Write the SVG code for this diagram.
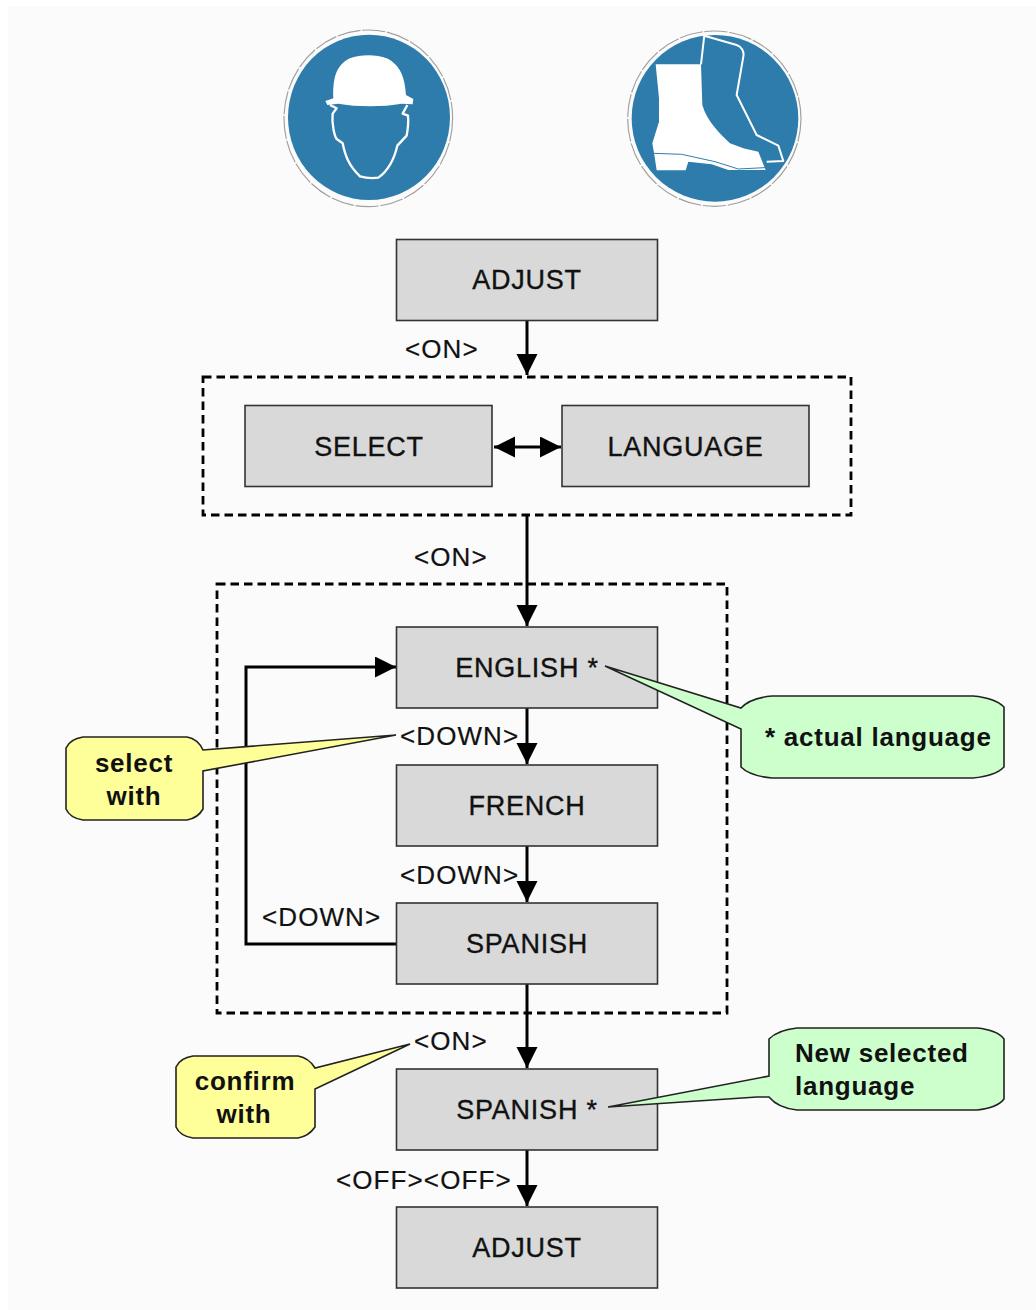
<svg xmlns="http://www.w3.org/2000/svg" width="1036" height="1310" viewBox="0 0 1036 1310">
<style>
.box{fill:#d9d9d9;stroke:#333;stroke-width:1.6}
.dash{fill:none;stroke:#000;stroke-width:2.8;stroke-dasharray:8.500 5}
.line{fill:none;stroke:#000;stroke-width:3}
.t{font-family:"Liberation Sans",Arial,sans-serif;font-size:27px;fill:#111;stroke:#111;stroke-width:.35;text-anchor:middle;letter-spacing:.75px}
.l{font-family:"Liberation Sans",Arial,sans-serif;font-size:26px;fill:#111;stroke:#111;stroke-width:.2;letter-spacing:1.100px}
.b{font-family:"Liberation Sans",Arial,sans-serif;font-size:26px;font-weight:bold;fill:#111;letter-spacing:.75px}
.m{text-anchor:middle}
.y{fill:#ffff99;stroke:#222;stroke-width:1.6}
.g{fill:#ccffcc;stroke:#222;stroke-width:1.6}
.ring{fill:none;stroke:#a0a0a0;stroke-width:3.500;stroke-dasharray:70 5}
</style>
<defs>
<marker id="a" markerUnits="userSpaceOnUse" markerWidth="22" markerHeight="22" refX="21" refY="10.500" orient="auto-start-reverse"><path d="M0 0L21 10.500L0 21Z" fill="#000"/></marker>
<filter id="soft" x="-5%" y="-5%" width="110%" height="110%"><feGaussianBlur stdDeviation="1.500"/></filter>
</defs>
<rect x="0" y="0" width="1036" height="1310" fill="#fff"/>
<rect x="8" y="6" width="1028" height="1304" fill="#fbfbfb"/>

<g id="icon-helmet" transform="translate(270 15) scale(.3333)" filter="url(#soft)">
<ellipse cx="297" cy="307" rx="243" ry="248" fill="#2f7cac"/>
<ellipse cx="295" cy="310" rx="253" ry="265" class="ring"/>
<path d="M190 250C188 190 198 150 240 130C270 118 320 118 350 130C392 150 405 190 408 240L430 252L428 268L395 266C340 276 260 276 205 266L172 270L166 258Z" fill="#fff"/>
<path d="M180 270L200 280L188 296C184 330 195 365 200 372L218 385C225 420 235 450 270 484C290 490 310 490 325 488C350 470 372 435 382 392L410 362C414 340 416 320 414 302L398 296L412 270" fill="none" stroke="#fff" stroke-width="7" stroke-linejoin="round"/>
</g>
<g id="icon-boot" transform="translate(615 15) scale(.3333)" filter="url(#soft)">
<ellipse cx="300" cy="310" rx="250" ry="250" fill="#2f7cac"/>
<ellipse cx="298" cy="311" rx="260" ry="263" class="ring"/>
<path d="M122 148L258 148L262 270C275 320 320 360 345 385L385 400L430 410L452 465L340 465L290 448L220 440L212 466L125 466L118 420L112 385L132 320L132 250Z" fill="#fff"/>
<path d="M268 60L258 148M268 62L365 90C380 95 388 110 385 125L365 240L425 360L490 392L505 438L455 440" fill="none" stroke="#fff" stroke-width="6" stroke-linejoin="round"/>
<path d="M115 415L200 418L300 440L370 462L450 458" fill="none" stroke="#2f7cac" stroke-width="3"/>
</g>

<g id="connectors">
<path class="line" d="M527 320V375" marker-end="url(#a)"/>
<path class="line" d="M494 447H561" marker-start="url(#a)" marker-end="url(#a)"/>
<path class="line" d="M527 515V626" marker-end="url(#a)"/>
<path class="line" d="M527 708V764" marker-end="url(#a)"/>
<path class="line" d="M527 846V902" marker-end="url(#a)"/>
<path class="line" d="M396 944H246V667H396" marker-end="url(#a)"/>
<path class="line" d="M527 984V1068" marker-end="url(#a)"/>
<path class="line" d="M527 1150V1206" marker-end="url(#a)"/>
</g>

<rect id="group-select" class="dash" x="203" y="377" width="648" height="138"/>
<rect id="group-languages" class="dash" x="217" y="584" width="510" height="429"/>

<g id="adjust-top"><rect class="box" x="396.500" y="239.500" width="261" height="81"/><text class="t" x="527" y="289">ADJUST</text></g>
<g id="select"><rect class="box" x="245" y="405.500" width="247" height="81"/><text class="t" x="369" y="456">SELECT</text></g>
<g id="language"><rect class="box" x="562" y="405.500" width="247" height="81"/><text class="t" x="685.500" y="456">LANGUAGE</text></g>
<g id="english"><rect class="box" x="396.500" y="627" width="261" height="81"/><text class="t" x="527" y="677">ENGLISH *</text></g>
<g id="french"><rect class="box" x="396.500" y="765" width="261" height="81"/><text class="t" x="527" y="815">FRENCH</text></g>
<g id="spanish"><rect class="box" x="396.500" y="903" width="261" height="81"/><text class="t" x="527" y="953">SPANISH</text></g>
<g id="spanish-selected"><rect class="box" x="396.500" y="1069" width="261" height="81"/><text class="t" x="527" y="1119">SPANISH *</text></g>
<g id="adjust-bottom"><rect class="box" x="396.500" y="1207" width="261" height="81"/><text class="t" x="527" y="1257">ADJUST</text></g>

<g id="labels">
<text class="l" x="405" y="358">&lt;ON&gt;</text>
<text class="l" x="414" y="566">&lt;ON&gt;</text>
<text class="l" x="400" y="745">&lt;DOWN&gt;</text>
<text class="l" x="400" y="884">&lt;DOWN&gt;</text>
<text class="l" x="262" y="926">&lt;DOWN&gt;</text>
<text class="l" x="414" y="1050">&lt;ON&gt;</text>
<text class="l" x="336" y="1189">&lt;OFF&gt;&lt;OFF&gt;</text>
</g>

<g id="callout-select"><path class="y" d="M83 737H187Q198 739 203 750L396 735L203 771V809Q198 818 187 820H83Q70 818 66 809V748Q70 739 83 737Z"/><text class="b m" x="134" y="772">select</text><text class="b m" x="134" y="805">with</text></g>
<g id="callout-actual"><path class="g" d="M772 696H973Q995 698 1004 707V767Q995 776 973 778H772Q750 776 741 767V729L605 666L741 708Q750 698 772 696Z"/><text class="b" x="765" y="746">* actual language</text></g>
<g id="callout-confirm"><path class="y" d="M193 1056H298Q309 1058 315 1068L410 1044L315 1089V1127Q309 1136 298 1138H193Q180 1136 176 1127V1067Q180 1058 193 1056Z"/><text class="b m" x="245" y="1090">confirm</text><text class="b m" x="244" y="1123">with</text></g>
<g id="callout-new"><path class="g" d="M797 1028H977Q997 1030 1004 1039V1099Q997 1108 977 1110H797Q778 1108 769 1097H757L608 1107L769 1076V1039Q778 1030 797 1028Z"/><text class="b" x="795" y="1062">New selected</text><text class="b" x="795" y="1095">language</text></g>
</svg>
